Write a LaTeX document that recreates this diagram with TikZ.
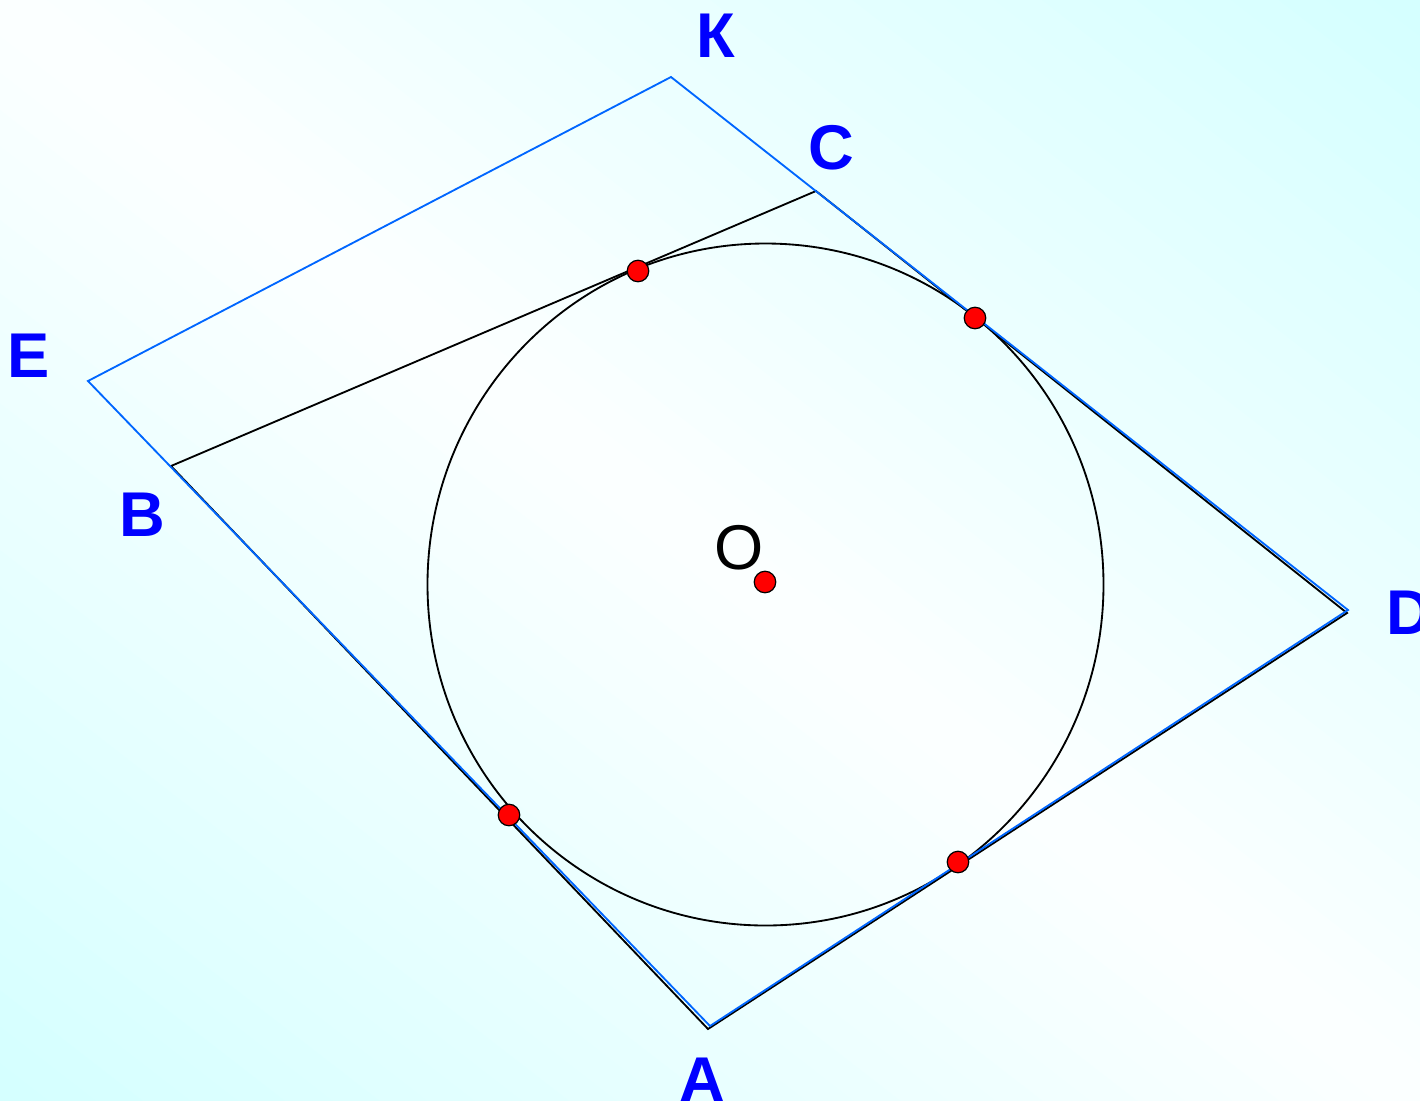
\documentclass[tikz,border=0pt]{standalone}
\usepackage{fontspec}
\setmainfont{Liberation Sans}
\usetikzlibrary{positioning}
\definecolor{bgcorner}{RGB}{212,255,255}
\definecolor{frame}{RGB}{0,102,255}
\definecolor{letter}{RGB}{0,0,255}

\begin{document}
\begin{tikzpicture}[x=0.02cm,y=-0.02cm,
  frameside/.style={draw=frame,line width=1.05pt},
  edge/.style={draw=black,line width=1.05pt},
  touch/.style={circle,draw=black,fill=red,line width=0.7pt,inner sep=0pt,minimum size=0.43cm},
  letterlbl/.style={text=letter,font=\fontsize{36}{40}\selectfont\bfseries,inner sep=0pt}]
  % background, white along the diagonal, cyan in two corners
  \begin{scope}
    \clip (0,0) rectangle (1420,1100);
    \begin{scope}[rotate around={-37.76:(710,550)}]
      \foreach \k in {0,...,59}{
        \pgfmathsetmacro{\ya}{-320+29*\k}
        \pgfmathtruncatemacro{\pct}{8+abs(\ya+14.5-550)/870*92}
        \fill[bgcorner!\pct!white] (-300,\ya) rectangle (1720,\ya+29.6);
      }
    \end{scope}
  \end{scope}
  \useasboundingbox (0,0) rectangle (1420,1100);
  % vertices
  \coordinate (A) at (708,1029);
  \coordinate (B) at (171,466);
  \coordinate (C) at (816,191);
  \coordinate (D) at (1347,613);
  \coordinate (E) at (88,381);
  \coordinate (K) at (671,77);
  \coordinate (Dfr) at (1348,610);
  \coordinate (Afr) at (710,1026);
  \coordinate (O) at (765.5,584.5);
  % circle and quadrilaterals
  \draw[edge] (O) ellipse[x radius=338,y radius=341];
  \draw[edge] (A) -- (B) -- (C) -- (D) -- cycle;
  \draw[frameside] (E) -- (K) -- (Dfr) -- (Afr) -- cycle;
  % points of tangency and centre
  \node[touch] (tBC) at (638,271) {};
  \node[touch] (tCD) at (975,318) {};
  \node[touch] (tAB) at (509,815) {};
  \node[touch] (tAD) at (958,862) {};
  \node[touch] (ctr) at (765,582) {};
  % labels
  \node[letterlbl] (lK) at (716,36) {К};
  \node[letterlbl] (lC) at (831,148) {C};
  \node[letterlbl] (lE) at (29,356) {E};
  \node[letterlbl] (lB) at (142,515) {B};
  \node[letterlbl,anchor=west] (lD) at (1386,613) {D};
  \node[letterlbl] (lA) at (702,1080) {A};
  \node[font=\fontsize{36}{40}\selectfont,inner sep=0pt] (lO) at (739,548) {O};
\end{tikzpicture}
\end{document}
